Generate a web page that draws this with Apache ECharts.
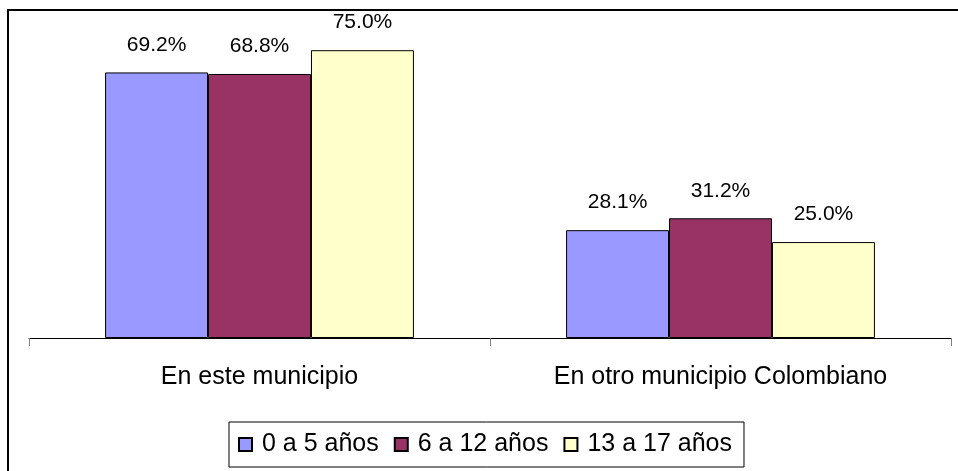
<!DOCTYPE html>
<html>
<head>
<meta charset="utf-8">
<script src="https://cdn.jsdelivr.net/npm/echarts@6/dist/echarts.min.js"></script>
<style>
html,body{margin:0;padding:0;background:#fff;}
#chart{width:958px;height:471px;}
</style>
</head>
<body>
<div id="chart"></div>
<script>
const categories = ["En este municipio", "En otro municipio Colombiano"];
const seriesNames = ["0 a 5 años", "6 a 12 años", "13 a 17 años"];
const values0to5 = [69.2, 28.1];
const values6to12 = [68.8, 31.2];
const values13to17 = [75.0, 25.0];
const colors = ["#9999FF", "#993366", "#FFFFCC"];

const FONT = "Liberation Sans, Arial, sans-serif";
const dataSets = [values0to5, values6to12, values13to17];

const chart = echarts.init(document.getElementById('chart'), null, {renderer: 'canvas'});
chart.setOption({
  animation: false,
  backgroundColor: '#fff',
  textStyle: {fontFamily: FONT},
  grid: {left: 29, right: 7, top: 31, bottom: 133, containLabel: false},
  xAxis: {
    type: 'category',
    data: categories,
    boundaryGap: true,
    axisLine: {lineStyle: {color: '#000', width: 1}},
    axisTick: {show: true, length: 8, lineStyle: {color: '#808080'}},
    axisLabel: {fontSize: 25, color: '#000', margin: 27, fontFamily: FONT}
  },
  yAxis: {
    type: 'value', min: 0, max: 80, show: false,
    splitLine: {show: false}
  },
  legend: {
    data: seriesNames,
    left: 229, top: 422,
    orient: 'horizontal',
    icon: 'rect',
    itemWidth: 13, itemHeight: 13,
    itemGap: 15,
    borderColor: '#000', borderWidth: 1,
    padding: [10, 12, 10, 9],
    textStyle: {fontSize: 25, color: '#000', fontFamily: FONT, padding: [0, 0, 0, 5]}
  },
  series: seriesNames.map((name, i) => ({
    name: name,
    type: 'bar',
    data: dataSets[i],
    barGap: '0%',
    barCategoryGap: '33%',
    itemStyle: {color: colors[i], borderColor: '#000', borderWidth: 1},
    label: {
      show: true, position: 'top', distance: 17,
      formatter: p => p.value.toFixed(1) + '%',
      fontSize: 21, color: '#000', fontFamily: FONT
    }
  })),
  graphic: [{
    type: 'rect',
    shape: {x: 8, y: 10, width: 1000, height: 500},
    style: {fill: 'none', stroke: '#000', lineWidth: 2},
    silent: true, z: 100
  }]
});
</script>
</body>
</html>
